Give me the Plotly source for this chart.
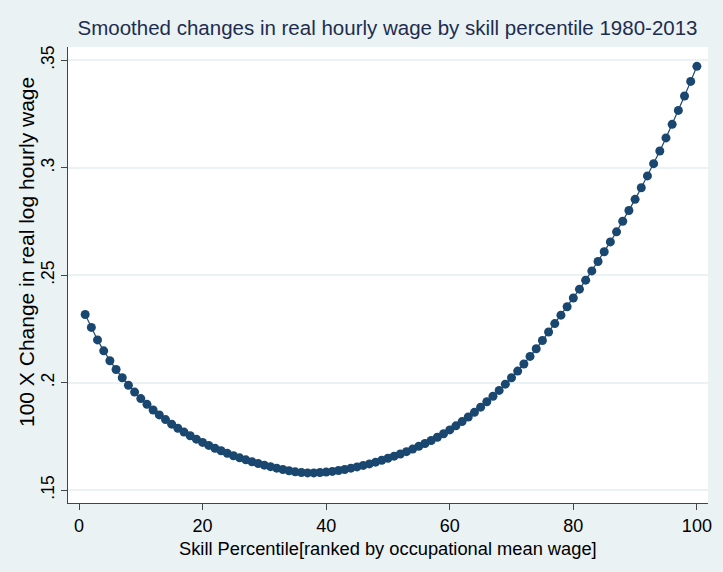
import plotly.graph_objects as go

percentile = list(range(1, 101))
wage_change = [
    0.2317, 0.2257, 0.2199, 0.2148, 0.2102, 0.2061, 0.2023, 0.1988, 0.1956, 0.1926,
    0.1899, 0.1873, 0.1850, 0.1828, 0.1807, 0.1788, 0.1770, 0.1753, 0.1737, 0.1722,
    0.1708, 0.1695, 0.1683, 0.1671, 0.1660, 0.1650, 0.1641, 0.1632, 0.1624, 0.1616,
    0.1609, 0.1602, 0.1596, 0.1590, 0.1585, 0.1582, 0.1580, 0.1580, 0.1582, 0.1584,
    0.1587, 0.1591, 0.1596, 0.1602, 0.1608, 0.1615, 0.1622, 0.1630, 0.1639, 0.1648,
    0.1658, 0.1668, 0.1679, 0.1691, 0.1704, 0.1717, 0.1731, 0.1746, 0.1762, 0.1780,
    0.1799, 0.1819, 0.1840, 0.1862, 0.1886, 0.1911, 0.1937, 0.1964, 0.1993, 0.2023,
    0.2054, 0.2087, 0.2122, 0.2158, 0.2196, 0.2236, 0.2275, 0.2314, 0.2353, 0.2394,
    0.2435, 0.2477, 0.2520, 0.2564, 0.2609, 0.2655, 0.2702, 0.2751, 0.2801, 0.2853,
    0.2907, 0.2962, 0.3019, 0.3078, 0.3139, 0.3202, 0.3267, 0.3334, 0.3402, 0.3472,
]

y_tick_vals = [0.15, 0.2, 0.25, 0.3, 0.35]
y_tick_text = [".15", ".2", ".25", ".3", ".35"]
x_tick_vals = [0, 20, 40, 60, 80, 100]

title_text = "Smoothed changes in real hourly wage by skill percentile 1980-2013"
x_title = "Skill Percentile[ranked by occupational mean wage]"
y_title = "100 X Change in real log hourly wage"

regular = "Liberation Sans, Arial, sans-serif"
bg = "#EAF2F3"

fig = go.Figure()
fig.add_trace(go.Scatter(
    x=percentile, y=wage_change, mode="lines+markers",
    line=dict(color="#1A476F", width=1.2),
    marker=dict(color="#1A476F", size=9, line=dict(width=0)),
    showlegend=False,
))

fig.update_layout(
    width=723, height=572,
    paper_bgcolor=bg,
    plot_bgcolor="#FFFFFF",
    margin=dict(l=68, r=15, t=47, b=69, autoexpand=False),
    font=dict(family=regular, color="#000000", size=16),
    title=dict(text=title_text, x=0.536, xanchor="center", xref="container",
               y=0.951, yanchor="middle",
               font=dict(size=20.5, color="#1e2d4f", family=regular)),
    annotations=[
        dict(text=x_title, xref="paper", yref="paper", x=0.5, y=0,
             xshift=0, yshift=-45, xanchor="center", yanchor="middle",
             showarrow=False, font=dict(size=18.3, family=regular, color="#000000")),
        dict(text=y_title, xref="paper", yref="paper", x=0, y=0.5,
             xshift=-42, yshift=23, xanchor="center", yanchor="middle",
             textangle=-90, showarrow=False,
             font=dict(size=21, family=regular, color="#000000")),
    ],
)
fig.update_xaxes(
    range=[-1.78, 101.8], tickvals=x_tick_vals, ticks="outside", ticklen=6,
    tickcolor="#444444", showline=True, linecolor="#444444", linewidth=1,
    showgrid=False, zeroline=False, automargin=False,
    tickfont=dict(size=18, family=regular),
)
fig.update_yaxes(
    range=[0.1440, 0.3562], tickvals=y_tick_vals, ticktext=y_tick_text,
    tickangle=-90, ticks="outside", ticklen=6, tickcolor="#444444",
    showline=True, linecolor="#444444", linewidth=1,
    showgrid=True, gridcolor=bg, gridwidth=1.5, zeroline=False,
    automargin=False,
    tickfont=dict(size=17.5, family=regular),
)

fig.write_html(
    "out.html",
    config={"displayModeBar": False},
    post_script="document.body.style.margin='0';document.body.style.background='%s';" % bg,
)
